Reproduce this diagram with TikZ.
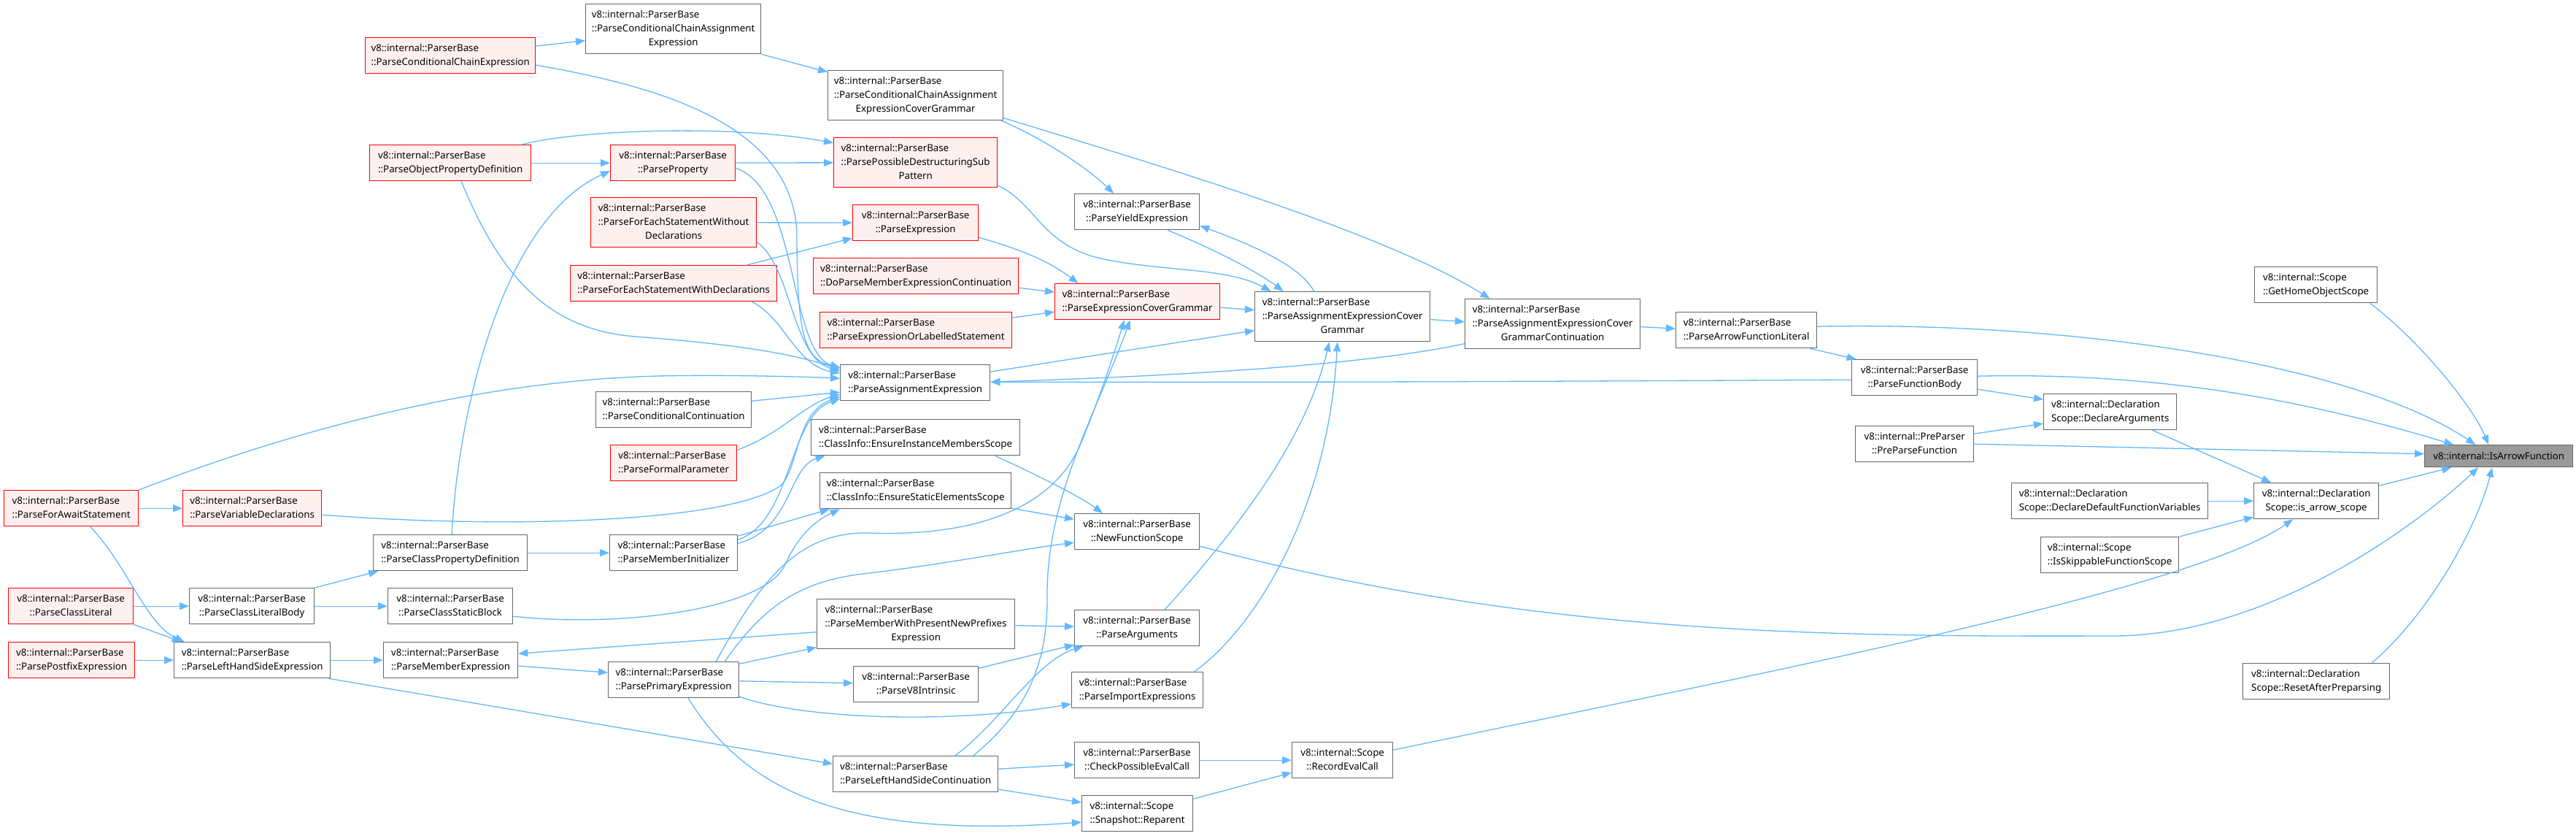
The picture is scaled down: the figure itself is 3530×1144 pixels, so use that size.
\documentclass[tikz,border=0pt]{standalone}
\usepackage{fontspec}
\setmainfont{Noto Sans}
\usepackage{tikz}
\usetikzlibrary{arrows.meta}
\definecolor{edgeblue}{HTML}{63B8FF}
\definecolor{nodegray}{HTML}{666666}
\definecolor{hotfill}{HTML}{FFF0F0}
\definecolor{rootfill}{HTML}{999999}
\newcommand{\lbltwo}[2]{\begin{tabular}{@{}l@{}}#1\\\multicolumn{1}{@{}c@{}}{#2}\end{tabular}}
\newcommand{\lblthree}[3]{\begin{tabular}{@{}l@{}}#1\\#2\\\multicolumn{1}{@{}c@{}}{#3}\end{tabular}}
\newcommand{\pb}{v8::internal::ParserBase}
\tikzset{
  func/.style={draw=nodegray, fill=white, line width=1.3pt, anchor=north west, inner sep=0pt,
    minimum height=49pt, font={\fontsize{13.3}{19.2}\selectfont}},
  tall/.style={minimum height=68pt},
  hot/.style={func, draw=red, fill=hotfill},
  root/.style={func, fill=rootfill, minimum height=30pt},
  call/.style={draw=edgeblue, line width=1.3pt, -{Triangle[length=13pt,width=10pt]}}}

\begin{document}
\begin{tikzpicture}[x=1pt, y=-1pt]
  \fill[white] (0,0) rectangle (3530,1144);
  \useasboundingbox (0,0) rectangle (3530,1144);
  % callers, left part
  \node[hot, minimum width=233pt] (pcce) at (500,51) {\lbltwo{\pb}{::ParseConditionalChainExpression}};
  \node[func, tall, minimum width=240pt] (pccae) at (802,5) {\lblthree{\pb}{::ParseConditionalChainAssignment}{Expression}};
  \node[hot, minimum width=221pt] (popd) at (506,198) {\lbltwo{\pb}{::ParseObjectPropertyDefinition}};
  \node[hot, minimum width=171pt] (pprop) at (836,198) {\lbltwo{\pb}{::ParseProperty}};
  \node[hot, tall, minimum width=227pt] (pfeswo) at (809,270) {\lblthree{\pb}{::ParseForEachStatementWithout}{Declarations}};
  \node[hot, minimum width=283pt] (pfeswd) at (781,363) {\lbltwo{\pb}{::ParseForEachStatementWithDeclarations}};
  \node[func, minimum width=213pt] (pccont) at (816,536) {\lbltwo{\pb}{::ParseConditionalContinuation}};
  \node[hot, minimum width=173pt] (pfp) at (836,609) {\lbltwo{\pb}{::ParseFormalParameter}};
  \node[hot, minimum width=184pt] (pfas) at (5,671) {\lbltwo{\pb}{::ParseForAwaitStatement}};
  \node[hot, minimum width=190pt] (pvd) at (250,671) {\lbltwo{\pb}{::ParseVariableDeclarations}};
  \node[func, minimum width=211pt] (pcpd) at (511,732) {\lbltwo{\pb}{::ParseClassPropertyDefinition}};
  \node[func, minimum width=175pt] (pmi) at (835,732) {\lbltwo{\pb}{::ParseMemberInitializer}};
  \node[hot, minimum width=171pt] (pcl) at (11,805) {\lbltwo{\pb}{::ParseClassLiteral}};
  \node[func, minimum width=171pt] (pclb) at (259,805) {\lbltwo{\pb}{::ParseClassLiteralBody}};
  \node[func, minimum width=171pt] (pcsb) at (531,805) {\lbltwo{\pb}{::ParseClassStaticBlock}};
  \node[hot, minimum width=173pt] (ppe) at (11,879) {\lbltwo{\pb}{::ParsePostfixExpression}};
  \node[func, minimum width=214pt] (plhse) at (238,879) {\lbltwo{\pb}{::ParseLeftHandSideExpression}};
  \node[func, minimum width=184pt] (pme) at (525,879) {\lbltwo{\pb}{::ParseMemberExpression}};
  \node[func, minimum width=179pt] (ppri) at (833,906) {\lbltwo{\pb}{::ParsePrimaryExpression}};
  % middle part
  \node[func, tall, minimum width=240pt] (pccaecg) at (1134,96) {\lblthree{\pb}{::ParseConditionalChainAssignment}{ExpressionCoverGrammar}};
  \node[hot, tall, minimum width=224pt] (ppdsp) at (1142,188) {\lblthree{\pb}{::ParsePossibleDestructuringSub}{Pattern}};
  \node[hot, minimum width=172pt] (pexpr) at (1168,280) {\lbltwo{\pb}{::ParseExpression}};
  \node[hot, minimum width=281pt] (dpmec) at (1114,353) {\lbltwo{\pb}{::DoParseMemberExpressionContinuation}};
  \node[hot, minimum width=263pt] (peols) at (1123,427) {\lbltwo{\pb}{::ParseExpressionOrLabelledStatement}};
  \node[hot, minimum width=226pt] (pecg) at (1445,388) {\lbltwo{\pb}{::ParseExpressionCoverGrammar}};
  \node[func, minimum width=171pt] (pyield) at (1472,265) {\lbltwo{\pb}{::ParseYieldExpression}};
  \node[func, minimum width=205pt] (pae) at (1151,499) {\lbltwo{\pb}{::ParseAssignmentExpression}};
  \node[func, tall, minimum width=240pt] (paecg) at (1719,399) {\lblthree{\pb}{::ParseAssignmentExpressionCover}{Grammar}};
  \node[func, minimum width=286pt] (eims) at (1111,574) {\lbltwo{\pb}{::ClassInfo::EnsureInstanceMembersScope}};
  \node[func, minimum width=262pt] (eses) at (1123,647) {\lbltwo{\pb}{::ClassInfo::EnsureStaticElementsScope}};
  \node[func, minimum width=171pt] (nfs) at (1472,703) {\lbltwo{\pb}{::NewFunctionScope}};
  \node[func, tall, minimum width=271pt] (pmwpnpe) at (1119,820) {\lblthree{\pb}{::ParseMemberWithPresentNewPrefixes}{Expression}};
  \node[func, minimum width=171pt] (pargs) at (1472,835) {\lbltwo{\pb}{::ParseArguments}};
  \node[func, minimum width=171pt] (pv8) at (1169,912) {\lbltwo{\pb}{::ParseV8Intrinsic}};
  \node[func, minimum width=180pt] (pimp) at (1468,920) {\lbltwo{\pb}{::ParseImportExpressions}};
  \node[func, minimum width=226pt] (plhsc) at (1141,1035) {\lbltwo{\pb}{::ParseLeftHandSideContinuation}};
  \node[func, minimum width=171pt] (cpec) at (1472,1016) {\lbltwo{\pb}{::CheckPossibleEvalCall}};
  \node[func, minimum width=152pt] (reparent) at (1482,1089) {\lbltwo{v8::internal::Scope}{::Snapshot::Reparent}};
  \node[func, minimum width=138pt] (rec) at (1770,1016) {\lbltwo{v8::internal::Scope}{::RecordEvalCall}};
  % right part
  \node[func, tall, minimum width=240pt] (paecgc) at (2007,409) {\lblthree{\pb}{::ParseAssignmentExpressionCover}{GrammarContinuation}};
  \node[func, minimum width=193pt] (pafl) at (2296,427) {\lbltwo{\pb}{::ParseArrowFunctionLiteral}};
  \node[func, minimum width=172pt] (pfb) at (2537,492) {\lbltwo{\pb}{::ParseFunctionBody}};
  \node[func, minimum width=162pt] (ppf) at (2542,583) {\lbltwo{v8::internal::PreParser}{::PreParseFunction}};
  \node[func, minimum width=168pt] (ghos) at (3089,365) {\lbltwo{v8::internal::Scope}{::GetHomeObjectScope}};
  \node[func, minimum width=182pt] (da) at (2800,539) {\lbltwo{v8::internal::Declaration}{Scope::DeclareArguments}};
  \node[root, minimum width=203pt] (iaf) at (3322,609) {v8::internal::IsArrowFunction};
  \node[func, minimum width=171pt] (ias) at (3088,661) {\lbltwo{v8::internal::Declaration}{Scope::is\_arrow\_scope}};
  \node[func, minimum width=269pt] (ddfv) at (2756,661) {\lbltwo{v8::internal::Declaration}{Scope::DeclareDefaultFunctionVariables}};
  \node[func, minimum width=189pt] (isfs) at (2796,735) {\lbltwo{v8::internal::Scope}{::IsSkippableFunctionScope}};
  \node[func, minimum width=201pt] (rap) at (3073,908) {\lbltwo{v8::internal::Declaration}{Scope::ResetAfterPreparsing}};

  % straight calls between neighbours
  \foreach \a/\b in {popd/pprop, pprop/ppdsp, pfeswo/pexpr, pfas/pvd, pcpd/pmi, pcl/pclb,
      pclb/pcsb, ppe/plhse, plhse/pme, ppri/pv8, cpec/rec, ddfv/ias}
    \draw[call] (\a) -- (\b);

  \draw[call] ([yshift=13pt]pcce.east) -- ([yshift=-16pt]pccae.west);
  \draw[call] ([yshift=-13pt]pcce.east) .. controls (900,118) and (1095,170) .. (1092,330)
    .. controls (1093,450) and (1100,492) .. ([yshift=21pt]pae.west);
  \draw[call] ([xshift=98pt]popd.north) .. controls (790,178) and (1000,170) .. ([yshift=27pt]ppdsp.west);
  \draw[call] ([xshift=15pt]popd.south) .. controls (690,390) and (760,452) .. (870,461)
    .. controls (990,470) and (1080,482) .. ([yshift=18pt]pae.west);
  \draw[call] ([yshift=-7pt]pprop.east) .. controls (1095,260) and (1080,480) .. ([yshift=20pt]pae.west);
  \draw[call] ([yshift=-27pt]pfeswo.east) .. controls (1085,365) and (1085,490) .. ([yshift=16pt]pae.west);
  \draw[call] ([xshift=100pt]pfeswd.north) -- ([yshift=-21pt]pexpr.west);
  \draw[call] ([xshift=107pt]pfeswd.south) .. controls (1075,435) and (1090,500) .. ([yshift=13pt]pae.west);
  \draw[call] (pfas.north east) .. controls (400,590) and (650,522) .. (900,515)
    .. controls (1000,513) and (1100,516) .. ([yshift=6pt]pae.west);
  \draw[call] ([xshift=26pt]pfas.south) .. controls (175,775) and (200,855) .. ([xshift=-93pt]plhse.north);
  \draw[call] ([yshift=-9pt]pvd.east) .. controls (700,725) and (1000,715) .. (1070,665)
    .. controls (1095,640) and (1090,565) .. ([yshift=-19pt]pae.west);
  \draw[call] ([yshift=12pt]pccont.east) -- ([yshift=-13pt]pae.west);
  \draw[call] ([yshift=18pt]pfp.east) .. controls (1070,595) and (1100,555) .. ([yshift=-16pt]pae.west);
  \draw[call] ([xshift=2pt]pcpd.north) .. controls (628,560) and (690,300) .. ([yshift=-11pt]pprop.west);
  \draw[call] ([yshift=23pt]pmi.east) -- ([xshift=-118pt]eses.south);
  \draw[call] ([yshift=18pt]pmi.east) .. controls (1085,715) and (1080,570) .. ([yshift=-22pt]pae.west);
  \draw[call] ([yshift=13pt]pmi.east) .. controls (1085,725) and (1080,640) .. ([xshift=-124pt]eims.south);
  \draw[call] (pcl.south east) -- ([xshift=-97pt]plhse.north);
  \draw[call] (pclb.north east) -- ([xshift=-99pt]pcpd.south);
  \draw[call] ([yshift=-14pt]pcsb.east) .. controls (850,860) and (1045,835) .. (1075,775)
    .. controls (1095,730) and (1120,712) .. ([xshift=-104pt]eses.south);
  \draw[call] ([xshift=105pt]plhse.south) -- ([yshift=14pt]plhsc.west);
  \draw[call] ([yshift=-8pt]pme.east) -- ([yshift=10pt]ppri.west);
  \draw[call] ([yshift=-11pt]pmwpnpe.west) -- ([yshift=9pt]pme.east);
  \draw[call] ([yshift=22pt]ppri.east) -- ([yshift=-32pt]pmwpnpe.west);
  \draw[call] ([yshift=-23pt]ppri.east) .. controls (1100,985) and (1300,992) .. ([yshift=-19pt]pimp.west);
  \draw[call] ([xshift=20pt]ppri.south) .. controls (1020,1080) and (1150,1150) .. ([yshift=-12pt]reparent.west);
  \draw[call] ([xshift=58pt]ppri.north) .. controls (1040,800) and (1090,728) .. (1190,730)
    .. controls (1330,735) and (1440,700) .. (1480,610)
    .. controls (1505,550) and (1525,490) .. ([xshift=-18pt]pecg.south);
  \draw[call] ([xshift=70pt]ppri.north) .. controls (1050,825) and (1100,795) .. (1190,785)
    .. controls (1300,772) and (1400,752) .. ([yshift=-15pt]nfs.west);
  \draw[call] ([xshift=79pt]plhsc.north) .. controls (1400,980) and (1435,920) .. (1435,820)
    .. controls (1433,680) and (1505,560) .. ([xshift=-10pt]pecg.south);
  \draw[call] ([xshift=54pt]plhsc.north) .. controls (1370,990) and (1420,905) .. ([xshift=-74pt]pargs.south);
  \draw[call] ([yshift=7pt]plhsc.east) -- ([yshift=-6pt]cpec.west);
  \draw[call] ([yshift=-21pt]plhsc.east) -- ([yshift=15pt]reparent.west);
  \draw[call] ([yshift=20pt]reparent.east) -- ([yshift=-17pt]rec.west);
  \draw[call] (pccae.south east) -- ([yshift=32pt]pccaecg.west);
  \draw[call] ([xshift=-3pt]pccaecg.south east) .. controls (1430,190) and (1490,230) .. ([xshift=-32pt]pyield.north);
  \draw[call] ([yshift=-31pt]pccaecg.east) .. controls (1600,230) and (1900,320) .. ([xshift=-86pt]paecgc.north);
  \draw[call] ([yshift=-31pt]ppdsp.east) .. controls (1420,280) and (1425,330) .. (1500,352)
    .. controls (1580,372) and (1680,365) .. ([xshift=-98pt]paecg.north);
  \draw[call] ([yshift=-20pt]pexpr.east) .. controls (1410,345) and (1440,360) .. ([xshift=-81pt]pecg.north);
  \draw[call] ([yshift=-16pt]dpmec.east) -- ([yshift=13pt]pecg.west);
  \draw[call] ([yshift=17pt]peols.east) -- ([yshift=-14pt]pecg.west);
  \draw[call] ([yshift=-8pt]pecg.east) -- ([yshift=9pt]paecg.west);
  \draw[call] ([xshift=42pt]pyield.south) .. controls (1660,340) and (1720,370) .. ([xshift=-81pt]paecg.north);
  \draw[call] ([xshift=-39pt]paecg.north) .. controls (1780,360) and (1700,330) .. ([yshift=-19pt]pyield.east);
  \draw[call] ([yshift=15pt]pae.east) -- ([yshift=-19pt]paecg.west);
  \draw[call] ([yshift=-4pt]paecg.east) -- ([yshift=3pt]paecgc.west);
  \draw[call] ([yshift=-4pt]paecgc.east) -- ([yshift=2pt]pafl.west);
  \draw[call] ([yshift=-27pt]paecgc.west) .. controls (1900,494) and (1700,512) .. ([yshift=1pt]pae.east);
  \draw[call] ([yshift=-3pt]pfb.west) .. controls (2200,522) and (1800,524) .. ([yshift=1pt]pae.east);
  \draw[call] ([xshift=87pt]pafl.south) -- ([xshift=-80pt]pfb.north);
  \draw[call] ([yshift=5pt]pafl.east) .. controls (2850,440) and (3230,500) .. ([xshift=-32pt]iaf.north);
  \draw[call] ([yshift=2pt]pfb.east) .. controls (2950,510) and (3150,545) .. ([xshift=-62pt]iaf.north);
  \draw[call] ([xshift=74pt]ghos.south) .. controls (3320,470) and (3390,560) .. ([xshift=-14pt]iaf.north);
  \draw[call] (ppf.east) -- ([yshift=3pt]iaf.west);
  \draw[call] ([yshift=14pt]ppf.east) -- ([yshift=-16pt]da.west);
  \draw[call] ([yshift=-16pt]pfb.east) -- ([yshift=17pt]da.west);
  \draw[call] ([xshift=58pt]da.south) -- ([xshift=-62pt]ias.north);
  \draw[call] (isfs.north east) -- ([yshift=-22pt]ias.west);
  \draw[call] ([yshift=21pt]ias.east) -- ([xshift=-65pt]iaf.south);
  \draw[call] ([yshift=-20pt]nfs.east) .. controls (2100,870) and (2500,872) .. (2895,871)
    .. controls (3100,871) and (3300,730) .. ([xshift=-28pt]iaf.south);
  \draw[call] ([yshift=14pt]rec.east) .. controls (2400,925) and (3000,810) .. ([xshift=-32pt]ias.south);
  \draw[call] ([xshift=76pt]rap.north) .. controls (3330,840) and (3395,720) .. ([xshift=-9pt]iaf.south);
  \draw[call] ([xshift=38pt]pargs.north) .. controls (1700,720) and (1790,600) .. ([xshift=-18pt]paecg.south);
  \draw[call] ([xshift=78pt]pimp.north) .. controls (1720,860) and (1820,700) .. ([xshift=-7pt]paecg.south);
  \draw[call] ([xshift=109pt]eims.south) .. controls (1420,650) and (1480,680) .. ([xshift=-47pt]nfs.north);
  \draw[call] ([yshift=-24pt]eses.east) -- ([yshift=17pt]nfs.west);
  \draw[call] ([yshift=22pt]pv8.east) -- ([yshift=-23pt]pargs.west);
  \draw[call] ([yshift=-2pt]pmwpnpe.east) -- ([yshift=2pt]pargs.west);
\end{tikzpicture}
\end{document}
